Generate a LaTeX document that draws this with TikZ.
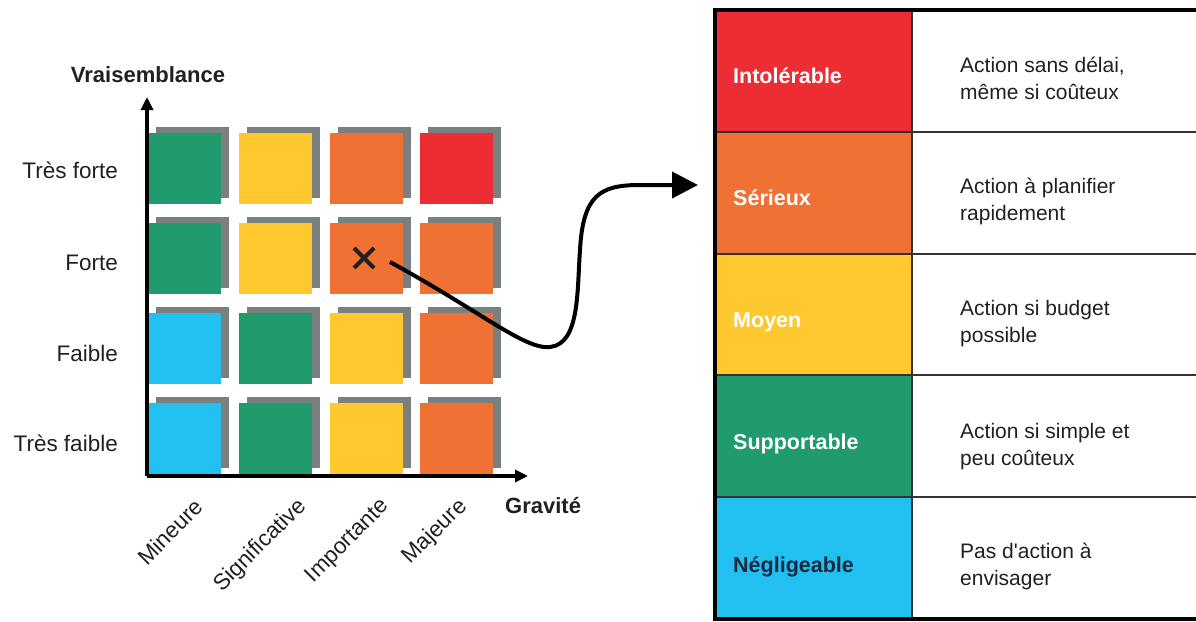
\documentclass[tikz,border=0pt]{standalone}
\usepackage{fontspec}
\setmainfont{Liberation Sans}
% family without TeX quote ligatures, so that ' stays a straight apostrophe
\newfontfamily\descfont{Liberation Sans}
\usetikzlibrary{arrows.meta,shadows,calc}

\definecolor{riskred}{RGB}{237,45,52}
\definecolor{riskorange}{RGB}{240,113,52}
\definecolor{riskyellow}{RGB}{255,200,46}
\definecolor{riskgreen}{RGB}{32,155,110}
\definecolor{riskcyan}{RGB}{34,192,240}
\definecolor{shadowgray}{RGB}{122,127,128}
\definecolor{ink}{RGB}{35,31,32}
\definecolor{navy}{RGB}{28,40,64}

\begin{document}
\begin{tikzpicture}[x=1pt,y=-1pt,
  cellsq/.style={rectangle,inner sep=0pt,minimum width=73pt,minimum height=71pt,
    anchor=north west,
    general shadow={fill=shadowgray,shadow xshift=8pt,shadow yshift=6pt}},
  axis/.style={line width=3.5pt,-{Triangle[length=13pt,width=12pt]}},
  lbl/.style={font=\fontsize{22.5}{26}\selectfont,text=ink,inner sep=0pt},
  axlbl/.style={font=\fontsize{22}{26}\selectfont\bfseries,text=ink,inner sep=0pt},
  lvl/.style={font=\fontsize{21.5}{26}\selectfont\bfseries,inner sep=0pt,anchor=base west},
  desc/.style={font=\descfont\fontsize{21}{27}\selectfont,text=ink,inner sep=0pt,align=left,anchor=base west},
]
\useasboundingbox (0,0) rectangle (1196,621);
\clip (0,0) rectangle (1196,621);

% ---- risk matrix squares (row j from top, column i from left) ----
\foreach \j/\row in {0/{riskgreen,riskyellow,riskorange,riskred},
                     1/{riskgreen,riskyellow,riskorange,riskorange},
                     2/{riskcyan,riskgreen,riskyellow,riskorange},
                     3/{riskcyan,riskgreen,riskyellow,riskorange}}{
  \foreach \c [count=\i from 0] in \row {
    \node[cellsq,fill=\c] (sq-\j-\i) at ({148+90.7*\i},{133+90*\j}) {};
  }
}

% ---- axes ----
\coordinate (origin) at (147,476);
\coordinate (ytip) at (147,97);
\coordinate (xtip) at (528,476);
\draw[axis] (origin) -- (ytip);
\draw[axis] (origin) -- (xtip);

\node[axlbl,anchor=base] (ylabel) at (148,82) {Vraisemblance};
\node[axlbl,anchor=base west] (xlabel) at (505,513) {Gravité};

\node[lbl,anchor=base east] (r0) at (118,178) {Très forte};
\node[lbl,anchor=base east] (r1) at (118,270) {Forte};
\node[lbl,anchor=base east] (r2) at (118,361) {Faible};
\node[lbl,anchor=base east] (r3) at (118,451) {Très faible};

\node[lbl,anchor=east,rotate=45] (c0) at (199,503) {Mineure};
\node[lbl,anchor=east,rotate=45] (c1) at (303,503) {Significative};
\node[lbl,anchor=east,rotate=45] (c2) at (386,503) {Importante};
\node[lbl,anchor=east,rotate=45] (c3) at (464,503) {Majeure};

% ---- marked risk and link to its level ----
\coordinate (mark) at (364,258);
\draw[line width=4pt,ink] ($(mark)+(-10,-10)$) -- ($(mark)+(10,10)$);
\draw[line width=4pt,ink] ($(mark)+(-10,10)$) -- ($(mark)+(10,-10)$);

\coordinate (start) at (390,262);
\coordinate (tip) at (698,185);
\draw[line width=4pt,black,-{Triangle[length=26pt,width=26pt]}]
  (start) .. controls (480,311) and (525,350) .. (550,347)
          .. controls (580,344) and (577,290) .. (580,250)
          .. controls (583,195) and (600,185) .. (640,185) -- (tip);

% ---- level table ----
\foreach \k/\c in {0/riskred,1/riskorange,2/riskyellow,3/riskgreen,4/riskcyan}{
  \fill[\c] (715,{10+121.8*\k}) rectangle (912,{10+121.8*(\k+1)});
}
\foreach \k in {1,2,3,4}{
  \draw[line width=2pt,black!80] (715,{10+121.8*\k}) -- (1200,{10+121.8*\k});
}
\draw[line width=2pt,black!80] (912,10) -- (912,619);
\draw[line width=4pt,black] (715,10) rectangle (1210,619);

\node[lvl,text=white] (l0) at (733,83) {Intolérable};
\node[lvl,text=white] (l1) at (733,205) {Sérieux};
\node[lvl,text=white] (l2) at (733,327) {Moyen};
\node[lvl,text=white] (l3) at (733,449) {Supportable};
\node[lvl,text=navy]  (l4) at (733,572) {Négligeable};

% two-line descriptions, anchored on the baseline of their last line
\node[desc] (d0) at (960,99)  {Action sans délai,\\même si coûteux};
\node[desc] (d1) at (960,220) {Action à planifier\\rapidement};
\node[desc] (d2) at (960,342) {Action si budget\\possible};
\node[desc] (d3) at (960,465) {Action si simple et\\peu coûteux};
\node[desc] (d4) at (960,585) {Pas d'action à\\envisager};
\end{tikzpicture}
\end{document}
